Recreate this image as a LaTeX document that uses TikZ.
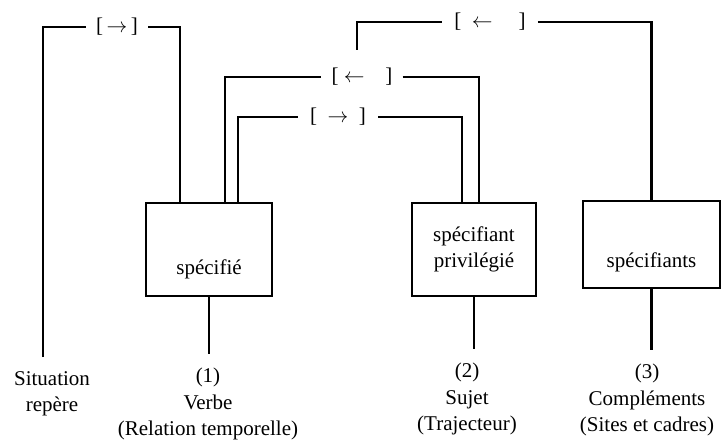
\documentclass[tikz,border=0pt]{standalone}
\usepackage{fontspec}
\setmainfont{Liberation Serif}
\usetikzlibrary{positioning}
\tikzset{
  box/.style  ={rectangle, draw, line width=2.4pt, inner sep=0pt},
  tag/.style  ={inner xsep=10pt, inner ysep=0pt},
  role/.style ={align=center, inner sep=0pt, inner ysep=14pt},
  link/.style ={line width=2.4pt}
}

\begin{document}
\begin{tikzpicture}[x=1pt, y=-1pt, font=\fontsize{21pt}{26.5pt}\selectfont]
    \useasboundingbox (0,0) rectangle (724,441);
    \node[box, minimum width=126pt, minimum height=93pt] (verbe) at (209,249.5) {};
    \node (specifie) at ([yshift=-20pt]verbe.center) {spécifié};
    \node[box, minimum width=124pt, minimum height=93pt, align=center] (sujet) at (474,249.5) {spécifiant\\privilégié};
    \node[box, minimum width=137pt, minimum height=87pt] (compl) at (651.5,244.5) {};
    \node (specifiants) at ([yshift=-18pt]compl.center) {spécifiants};
    \node[role, anchor=north] (sitL) at (52,357) {Situation\\repère};
    \node[role, anchor=north] (verbeL) at (208,354) {(1)\\Verbe\\(Relation temporelle)};
    \node[role, anchor=north] (sujetL) at (467,349) {(2)\\Sujet\\(Trajecteur)};
    \node[role, anchor=north] (complL) at (647,350) {(3)\\Compléments\\(Sites et cadres)};
    \node[tag] (tagA) at (117,27) {[\,$\rightarrow$\,]};
    \node[tag] (tagB) at (362,77) {[\ $\leftarrow$\quad]};
    \node[tag, inner xsep=12pt] (tagC) at (338,117) {[\enspace$\rightarrow$\enspace]};
    \node[tag, inner xsep=12pt] (tagD) at (490,22) {[\enspace$\leftarrow$\quad\ ]};
    \coordinate (v1) at ([xshift=35pt]verbe.north west);
    \coordinate (v2) at ([xshift=80pt]verbe.north west);
    \coordinate (v3) at ([xshift=93pt]verbe.north west);
    \coordinate (p1) at ([xshift=51pt]sujet.north west);
    \coordinate (p2) at ([xshift=68pt]sujet.north west);
    \coordinate (dtail) at (357,50);
    \draw[link] ([xshift=-9pt]sitL.north) |- (tagA.west);
    \draw[link] (tagA.east) -| (v1);
    \draw[link] (v2) |- (tagB.west);
    \draw[link] (tagB.east) -| (p2);
    \draw[link] (v3) |- (tagC.west);
    \draw[link] (tagC.east) -| (p1);
    \draw[link] (dtail) |- (tagD.west);
    \draw[link] (tagD.east) -| (compl.north);
    \draw[link] (verbe.south) -- (verbe.south |- verbeL.north);
    \draw[link] (sujet.south) -- (sujet.south |- sujetL.north);
    \draw[link] (compl.south) -- (compl.south |- complL.north);
\end{tikzpicture}
\end{document}
